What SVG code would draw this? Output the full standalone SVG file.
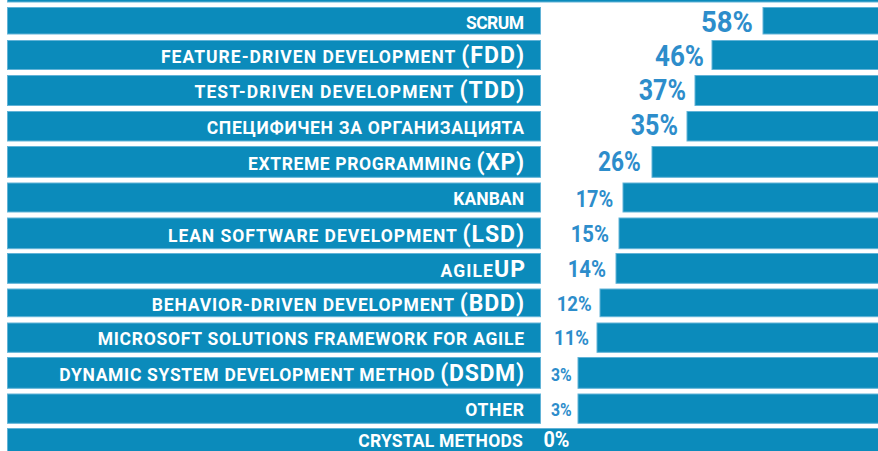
<svg xmlns="http://www.w3.org/2000/svg" width="878" height="451" viewBox="0 0 878 451">
<style>
.bar{fill:#0b8bbb;stroke:#62b3d7;stroke-width:1}
.lab{font-family:Roboto,"DejaVu Sans Condensed",sans-serif;font-weight:bold;font-size:17.5px;fill:#ffffff}
.big{font-size:23px}
.pct{font-family:Roboto,"DejaVu Sans",sans-serif;font-weight:bold;fill:#2d8dcb}
</style>
<rect width="878" height="451" fill="#ffffff"/>
<rect class="bar" x="7.5" y="-28" width="871" height="30"/>
<g id="row-scrum">
<rect class="bar" x="7.5" y="7.5" width="533" height="26.5"/>
<rect class="bar" x="763" y="7.5" width="116" height="26.5"/>
<text class="lab" x="466" y="28.5" textLength="58" lengthAdjust="spacing">SCRUM</text>
<text class="pct" x="701" y="32.3" font-size="30" textLength="52" lengthAdjust="spacingAndGlyphs">58%</text>
</g>
<g id="row-fdd">
<rect class="bar" x="7.5" y="40.5" width="533" height="29"/>
<rect class="bar" x="712" y="40.5" width="167" height="29"/>
<text class="lab" x="161" y="62.7" textLength="363" lengthAdjust="spacing">FEATURE-DRIVEN DEVELOPMENT <tspan class="big">(FDD)</tspan></text>
<text class="pct" x="655" y="65.7" font-size="29" textLength="49" lengthAdjust="spacingAndGlyphs">46%</text>
</g>
<g id="row-tdd">
<rect class="bar" x="7.5" y="75.5" width="533" height="30"/>
<rect class="bar" x="695" y="75.5" width="184" height="30"/>
<text class="lab" x="194.5" y="98" textLength="329.5" lengthAdjust="spacing">TEST-DRIVEN DEVELOPMENT <tspan class="big">(TDD)</tspan></text>
<text class="pct" x="638.7" y="100" font-size="29" textLength="47.3" lengthAdjust="spacingAndGlyphs">37%</text>
</g>
<g id="row-org">
<rect class="bar" x="7.5" y="111.5" width="533" height="29.5"/>
<rect class="bar" x="687" y="111.5" width="192" height="29.5"/>
<text class="lab" x="206.7" y="134" textLength="317.3" lengthAdjust="spacing">СПЕЦИФИЧЕН ЗА ОРГАНИЗАЦИЯТА</text>
<text class="pct" x="630.7" y="135" font-size="29" textLength="47.3" lengthAdjust="spacingAndGlyphs">35%</text>
</g>
<g id="row-xp">
<rect class="bar" x="7.5" y="146.5" width="533" height="30.8"/>
<rect class="bar" x="652" y="146.5" width="227" height="30.8"/>
<text class="lab" x="248" y="170" textLength="276" lengthAdjust="spacing">EXTREME PROGRAMMING <tspan class="big">(XP)</tspan></text>
<text class="pct" x="598" y="170.7" font-size="28" textLength="42.7" lengthAdjust="spacingAndGlyphs">26%</text>
</g>
<g id="row-kanban">
<rect class="bar" x="7.5" y="183" width="533" height="29"/>
<rect class="bar" x="623" y="183" width="256" height="29"/>
<text class="lab" x="453.3" y="205" textLength="70.7" lengthAdjust="spacing">KANBAN</text>
<text class="pct" x="575.7" y="206.7" font-size="23.5" textLength="37.6" lengthAdjust="spacingAndGlyphs">17%</text>
</g>
<g id="row-lsd">
<rect class="bar" x="7.5" y="218" width="533" height="30.7"/>
<rect class="bar" x="619" y="218" width="260" height="30.7"/>
<text class="lab" x="168" y="241.5" textLength="356" lengthAdjust="spacing">LEAN SOFTWARE DEVELOPMENT <tspan class="big">(LSD)</tspan></text>
<text class="pct" x="570.7" y="241.7" font-size="23.5" textLength="38.3" lengthAdjust="spacingAndGlyphs">15%</text>
</g>
<g id="row-agileup">
<rect class="bar" x="7.5" y="253.5" width="533" height="29.8"/>
<rect class="bar" x="616" y="253.5" width="263" height="29.8"/>
<text class="lab" x="440.5" y="276.5" textLength="84.5" lengthAdjust="spacing">AGILE<tspan class="big">UP</tspan></text>
<text class="pct" x="567.7" y="276.7" font-size="23.5" textLength="38.3" lengthAdjust="spacingAndGlyphs">14%</text>
</g>
<g id="row-bdd">
<rect class="bar" x="7.5" y="289" width="533" height="27.7"/>
<rect class="bar" x="600" y="289" width="279" height="27.7"/>
<text class="lab" x="151.7" y="310.5" textLength="372.3" lengthAdjust="spacing">BEHAVIOR-DRIVEN DEVELOPMENT <tspan class="big">(BDD)</tspan></text>
<text class="pct" x="556.7" y="311" font-size="21" textLength="35" lengthAdjust="spacingAndGlyphs">12%</text>
</g>
<g id="row-msf">
<rect class="bar" x="7.5" y="323" width="533" height="29.3"/>
<rect class="bar" x="597" y="323" width="282" height="29.3"/>
<text class="lab" x="97.7" y="345" textLength="426.3" lengthAdjust="spacing">MICROSOFT SOLUTIONS FRAMEWORK FOR AGILE</text>
<text class="pct" x="554" y="345" font-size="21" textLength="35" lengthAdjust="spacingAndGlyphs">11%</text>
</g>
<g id="row-dsdm">
<rect class="bar" x="7.5" y="357.5" width="533" height="30.8"/>
<rect class="bar" x="578" y="357.5" width="301" height="30.8"/>
<text class="lab" x="59.3" y="381" textLength="464.7" lengthAdjust="spacing">DYNAMIC SYSTEM DEVELOPMENT METHOD <tspan class="big">(DSDM)</tspan></text>
<text class="pct" x="551" y="381" font-size="18" textLength="20.7" lengthAdjust="spacingAndGlyphs">3%</text>
</g>
<g id="row-other">
<rect class="bar" x="7.5" y="394" width="533" height="29.3"/>
<rect class="bar" x="578" y="394" width="301" height="29.3"/>
<text class="lab" x="465.3" y="416" textLength="58.7" lengthAdjust="spacing">OTHER</text>
<text class="pct" x="551" y="416" font-size="18" textLength="20.7" lengthAdjust="spacingAndGlyphs">3%</text>
</g>
<g id="row-crystal">
<rect class="bar" x="7.5" y="428.5" width="871" height="30"/>
<text class="lab" x="358.3" y="447.3" textLength="164.4" lengthAdjust="spacing">CRYSTAL METHODS</text>
<text class="pct" x="543.5" y="447.3" font-size="22" style="fill:#ffffff" textLength="26" lengthAdjust="spacingAndGlyphs">0%</text>
</g>
</svg>
